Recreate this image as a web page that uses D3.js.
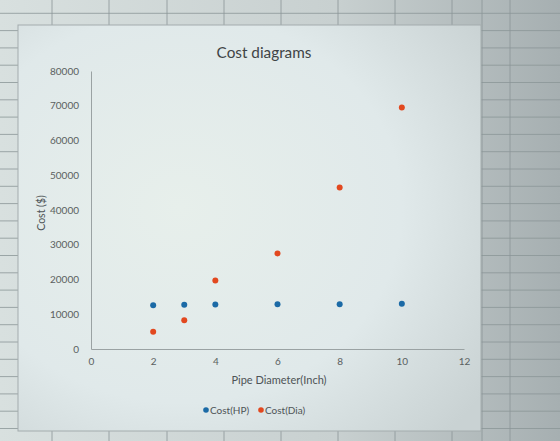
<!DOCTYPE html>
<html>
<head>
<meta charset="utf-8">
<script src="https://cdn.jsdelivr.net/npm/d3@7"></script>
<style>
  body { margin: 0; background: #c4cccd; }
  svg { display: block; }
</style>
</head>
<body>
<svg id="chart" width="560" height="441"></svg>
<script>
// Chart data
const diameters = [2, 3, 4, 6, 8, 10];
const costHP = [12600, 12700, 12800, 12900, 12900, 13000];
const costDia = [5000, 8300, 19700, 27500, 46500, 69500];
const xTicks = [0, 2, 4, 6, 8, 10, 12];
const yTicks = [0, 10000, 20000, 30000, 40000, 50000, 60000, 70000, 80000];
const seriesNames = ["Cost(HP)", "Cost(Dia)"];
const seriesColors = ["#1b6aa6", "#e2481f"];

const svg = d3.select("#chart");
const width = +svg.attr("width");
const height = +svg.attr("height");
const font = "Lato, 'Open Sans', sans-serif";

// Spreadsheet background behind the chart
const defs = svg.append("defs");
const sheetGrad = defs.append("linearGradient").attr("id", "sheet")
  .attr("x1", 0).attr("x2", 1).attr("y1", 0).attr("y2", 0);
sheetGrad.append("stop").attr("offset", 0).attr("stop-color", "#d8e0df");
sheetGrad.append("stop").attr("offset", 0.6).attr("stop-color", "#c8d0d0");
sheetGrad.append("stop").attr("offset", 1).attr("stop-color", "#a6afb1");

const plotGrad = defs.append("radialGradient").attr("id", "plot")
  .attr("cx", 0.35).attr("cy", 0.45).attr("r", 0.8);
plotGrad.append("stop").attr("offset", 0).attr("stop-color", "#e7efeb");
plotGrad.append("stop").attr("offset", 0.6).attr("stop-color", "#e0e9ea");
plotGrad.append("stop").attr("offset", 1).attr("stop-color", "#c9d2d3");

svg.append("rect").attr("width", width).attr("height", height)
  .attr("fill", "url(#sheet)");

// Cell grid lines
const gridG = svg.append("g").attr("stroke", "#8a9597").attr("stroke-width", 0.8);
d3.range(-4, height, 17.3).forEach((y) => {
  gridG.append("line").attr("x1", 0).attr("x2", width).attr("y1", y).attr("y2", y);
});
[52, 109, 167, 224, 281, 338, 395, 452, 482, 510].forEach((x) => {
  gridG.append("line").attr("x1", x).attr("x2", x).attr("y1", 0).attr("y2", height);
});

// Chart area
svg.append("rect")
  .attr("x", 18).attr("y", 25).attr("width", 463).attr("height", 406)
  .attr("fill", "url(#plot)")
  .attr("stroke", "#a3acad").attr("stroke-width", 1);

// Scales
const x = d3.scaleLinear().domain([0, 12]).range([91, 464]);
const y = d3.scaleLinear().domain([0, 80000]).range([349, 71]);

// Axes
const xAxis = svg.append("g")
  .attr("transform", `translate(0,${y(0)})`)
  .call(d3.axisBottom(x).tickValues(xTicks).tickSize(0).tickPadding(9));
const yAxis = svg.append("g")
  .attr("transform", `translate(${x(0)},0)`)
  .call(d3.axisLeft(y).tickValues(yTicks).tickSize(0).tickPadding(12)
    .tickFormat(d3.format("d")));

[xAxis, yAxis].forEach((g) => {
  g.select(".domain").attr("stroke", "#9aa2a3").attr("stroke-width", 1);
  g.selectAll("text")
    .attr("fill", "#5a6060")
    .attr("font-family", font)
    .attr("font-size", "10px");
});

// Points
const series = [costHP, costDia];
series.forEach((values, i) => {
  svg.append("g")
    .selectAll("circle")
    .data(values)
    .enter()
    .append("circle")
    .attr("cx", (d, j) => x(diameters[j]))
    .attr("cy", (d) => y(d))
    .attr("r", 3)
    .attr("fill", seriesColors[i]);
});

// Titles
svg.append("text")
  .attr("x", 264).attr("y", 58)
  .attr("text-anchor", "middle")
  .attr("fill", "#3f4446")
  .attr("font-family", font)
  .attr("font-size", "15.3px")
  .text("Cost diagrams");

svg.append("text")
  .attr("x", 279).attr("y", 384)
  .attr("text-anchor", "middle")
  .attr("fill", "#4e5456")
  .attr("font-family", font)
  .attr("font-size", "11px")
  .text("Pipe Diameter(Inch)");

svg.append("text")
  .attr("transform", "translate(45,213) rotate(-90)")
  .attr("text-anchor", "middle")
  .attr("fill", "#4e5456")
  .attr("font-family", font)
  .attr("font-size", "10.5px")
  .text("Cost ($)");

// Legend
const legendX = [206, 261];
seriesNames.forEach((name, i) => {
  svg.append("circle")
    .attr("cx", legendX[i]).attr("cy", 410).attr("r", 2.8)
    .attr("fill", seriesColors[i]);
  svg.append("text")
    .attr("x", legendX[i] + 4).attr("y", 413.5)
    .attr("fill", "#4e5456")
    .attr("font-family", font)
    .attr("font-size", "10px")
    .text(name);
});
</script>
</body>
</html>
